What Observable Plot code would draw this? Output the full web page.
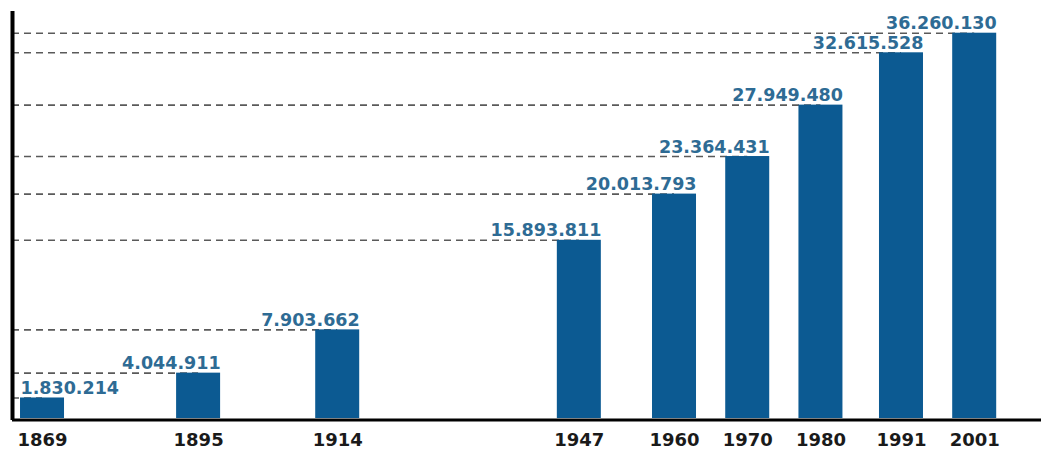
<!DOCTYPE html>
<html>
<head>
<meta charset="utf-8">
<script src="https://cdn.jsdelivr.net/npm/d3@7"></script>
<script src="https://cdn.jsdelivr.net/npm/@observablehq/plot@0.6"></script>
<style>
  html, body { margin: 0; padding: 0; background: #fff; }
  #chart svg { display: block; }
</style>
</head>
<body>
<div id="chart"></div>
<script>
const years = [1869, 1895, 1914, 1947, 1960, 1970, 1980, 1991, 2001];
const population = [1830214, 4044911, 7903662, 15893811, 20013793, 23364431, 27949480, 32615528, 36260130];
const valueLabels = ["1.830.214", "4.044.911", "7.903.662", "15.893.811", "20.013.793", "23.364.431", "27.949.480", "32.615.528", "36.260.130"];
const yearLabels = ["1869", "1895", "1914", "1947", "1960", "1970", "1980", "1991", "2001"];

const data = years.map((year, i) => ({year, pop: population[i], label: valueLabels[i]}));
const axisYear = 1864;
const barColor = "#0c5a92";
const labelColor = "#2e6b94";
const font = "DejaVu Sans";

const chart = Plot.plot({
  width: 1042,
  height: 451,
  marginLeft: 12,
  marginRight: 1,
  marginTop: 11,
  marginBottom: 31,
  style: {fontFamily: font, fontSize: "18px", fontWeight: "bold", color: "#1a1a1a", background: "#fff"},
  x: {
    type: "linear",
    domain: [axisYear, 1895, 2001],
    range: [12, 198.1, 974.2],
    ticks: years,
    tickSize: 0,
    tickPadding: 13,
    tickFormat: d => yearLabels[years.indexOf(d)] ?? "",
    label: null
  },
  y: {
    type: "linear",
    domain: [0, 32615528, 36260130],
    range: [418, 52.3, 32.7],
    axis: null
  },
  marks: [
    Plot.ruleY(data, {y: "pop", x1: () => axisYear, x2: "year", stroke: "#5a5a5a", strokeWidth: 1.6, strokeDasharray: "7,5"}),
    Plot.rect(data, {x1: "year", x2: "year", y1: () => 0, y2: "pop", insetLeft: -22, insetRight: -22, fill: barColor}),
    Plot.ruleX([axisYear], {stroke: "#000", strokeWidth: 4}),
    Plot.ruleY([0], {stroke: "#000", strokeWidth: 3, dy: 1.5}),
    Plot.text(data.filter((d, i) => i === 0), {x: "year", y: "pop", text: "label", textAnchor: "start", dx: -22, dy: -4, lineAnchor: "bottom", fill: labelColor, fontSize: 17.5, fontWeight: "bold", fontFamily: font}),
    Plot.text(data.filter((d, i) => i > 0), {x: "year", y: "pop", text: "label", textAnchor: "end", dx: 22, dy: -4, lineAnchor: "bottom", fill: labelColor, fontSize: 17.5, fontWeight: "bold", fontFamily: font})
  ]
});

document.getElementById("chart").appendChild(chart);
</script>
</body>
</html>
